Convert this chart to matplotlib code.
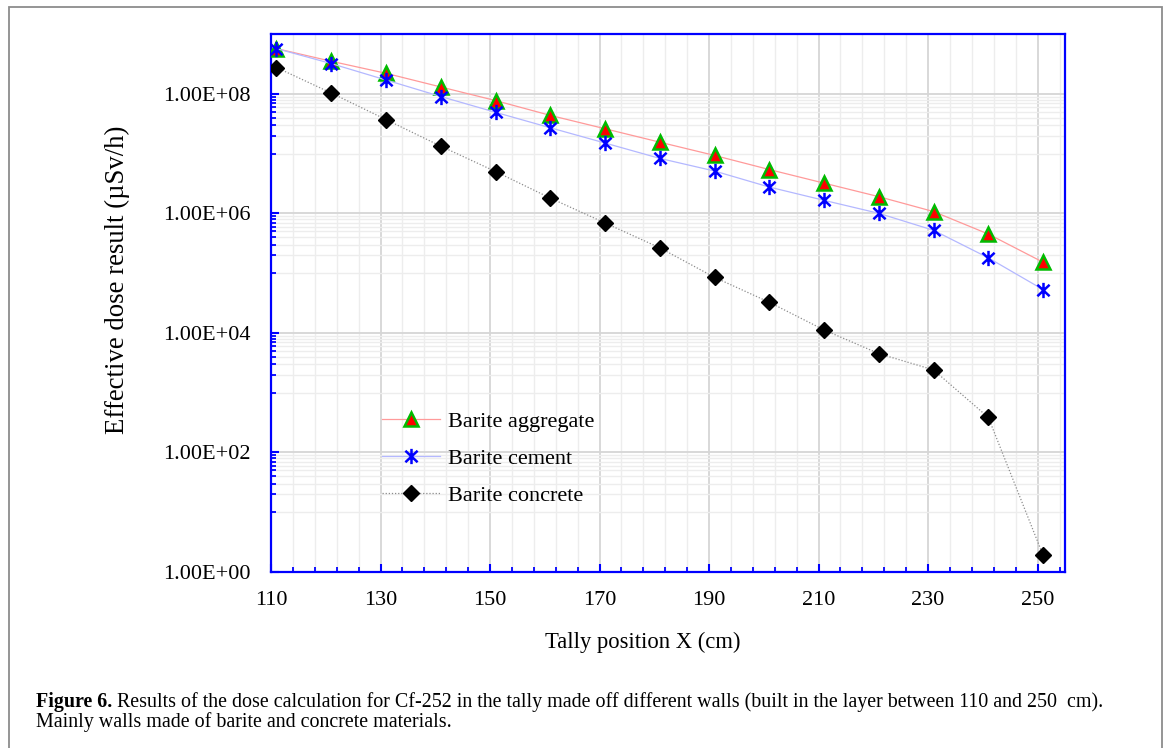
import matplotlib
matplotlib.use('Agg')
import matplotlib.pyplot as plt
import numpy as np
from matplotlib.path import Path
from matplotlib.patches import Rectangle
from matplotlib.ticker import FixedLocator, FuncFormatter, NullFormatter

# tally positions (cm)
x_pos = [111, 121, 131, 141, 151, 161, 171, 181, 191, 201, 211, 221, 231, 241, 251]

# effective dose (uSv/h)
dose_aggregate = [5.7e8, 3.5e8, 2.2e8, 1.3e8, 7.7e7, 4.35e7, 2.6e7, 1.55e7, 9.3e6,
                  5.4e6, 3.2e6, 1.9e6, 1.07e6, 4.5e5, 1.52e5]
dose_cement = [5.7e8, 3.2e8, 1.7e8, 9.0e7, 4.9e7, 2.7e7, 1.5e7, 8.3e6, 5.1e6,
               2.75e6, 1.65e6, 1.0e6, 5.2e5, 1.8e5, 5.3e4]
dose_concrete = [2.75e8, 1.03e8, 3.7e7, 1.33e7, 5.0e6, 1.8e6, 6.9e5, 2.65e5, 8.5e4,
                 3.25e4, 1.12e4, 4.5e3, 2.4e3, 3.85e2, 1.9]

labels = ['Barite aggregate', 'Barite cement', 'Barite concrete']
x_ticks = [110, 130, 150, 170, 190, 210, 230, 250]
y_ticks = [1e0, 1e2, 1e4, 1e6, 1e8]

caption_bold = 'Figure 6.'
caption_1 = (' Results of the dose calculation for Cf-252 in the tally made off different walls '
             '(built in the layer between 110 and 250  cm).')
caption_2 = 'Mainly walls made of barite and concrete materials.'

plt.rcParams['font.family'] = ['Liberation Serif', 'DejaVu Serif']

W, H = 1168, 748
fig = plt.figure(figsize=(W / 100, H / 100), dpi=100)
ax = fig.add_axes([271 / W, 1 - 572 / H, (1065 - 271) / W, (572 - 34) / H])

# asterisk marker: vertical bar plus an X
star = Path([(0, -1), (0, 1), (-0.8, -0.75), (0.8, 0.75), (-0.8, 0.75), (0.8, -0.75)],
            [Path.MOVETO, Path.LINETO, Path.MOVETO, Path.LINETO, Path.MOVETO, Path.LINETO])

ax.plot(x_pos, dose_aggregate, color='#ff9a9a', lw=0.9, marker='^', ms=10,
        mfc='#ff0000', mec='#00bb00', mew=1.8, label=labels[0], zorder=5)
ax.plot(x_pos, dose_cement, color='#b4b8ff', lw=0.9, marker=star, ms=11,
        mfc='none', mec='#0000ff', mew=1.8, label=labels[1], zorder=6)
ax.plot(x_pos, dose_concrete, color='#8c8c8c', lw=0.9, ls=(0, (1, 1.5)), marker='D', ms=8.5,
        mfc='black', mec='black', label=labels[2], zorder=5)

ax.set_yscale('log')
ax.set_xlim(110, 255)
ax.set_ylim(1, 1e9)

ax.xaxis.set_major_locator(FixedLocator(x_ticks))
ax.xaxis.set_minor_locator(FixedLocator(np.arange(110, 256, 4)))
ax.yaxis.set_major_locator(FixedLocator(y_ticks))
ax.yaxis.set_minor_locator(FixedLocator([k * 10.0 ** e for e in (1, 3, 5, 7) for k in range(1, 10)]))
ax.yaxis.set_major_formatter(FuncFormatter(lambda v, p: '{:.2E}'.format(v)))
ax.yaxis.set_minor_formatter(NullFormatter())

ax.grid(True, which='major', color='#d6d6d6', lw=1.3, zorder=0)
ax.grid(True, which='minor', color='#ededed', lw=1.0, zorder=0)
ax.set_axisbelow(True)

for s in ax.spines.values():
    s.set_color('#0000ff')
    s.set_linewidth(1.6)

ax.tick_params(which='both', direction='in', colors='#0000ff', labelcolor='black',
               top=False, right=False)
ax.tick_params(which='major', length=6, width=1.5, labelsize=16)
ax.tick_params(which='minor', length=3.5, width=1.3)
ax.tick_params(axis='y', pad=15)
ax.tick_params(axis='x', pad=14)

ax.set_xlabel('Tally position X (cm)', fontsize=16.3)
ax.xaxis.set_label_coords((643 - 271) / 794, (572 - 642) / 538)
ax.xaxis.label.set_va('center')
ax.set_ylabel('Effective dose result (µSv/h)', fontsize=19.3)
ax.yaxis.set_label_coords((117 - 271) / 794, (572 - 280) / 538)
ax.yaxis.label.set_va('center')

ax.legend(loc='upper left', bbox_to_anchor=((382 - 271) / 794, (572 - 411) / 538),
          frameon=False, fontsize=16, handlelength=2.6, handletextpad=0.36,
          labelspacing=0.75, borderpad=0, borderaxespad=0)

# page frame and caption
fig.patches.append(Rectangle((9 / W, -0.01), (1162 - 9) / W, (H - 7) / H + 0.01,
                             transform=fig.transFigure, fill=False, ec='#8c8c8c', lw=1.3))

t1 = fig.text(36 / W, 1 - 707 / H, caption_bold, fontsize=13, fontweight='bold', va='baseline')
t2 = fig.text(0, 1 - 707 / H, caption_1, fontsize=13, va='baseline')
t3 = fig.text(36 / W, 1 - 727 / H, caption_2, fontsize=13, va='baseline')

# fit first caption line to its width in the reference
r = fig.canvas.get_renderer()
w_total = t1.get_window_extent(r).width + t2.get_window_extent(r).width
fs = 13 * (1100 - 36) / w_total
for t in (t1, t2, t3):
    t.set_fontsize(fs)
t2.set_x((36 + t1.get_window_extent(r).width) / W)

fig.savefig('out.png', dpi=100)
